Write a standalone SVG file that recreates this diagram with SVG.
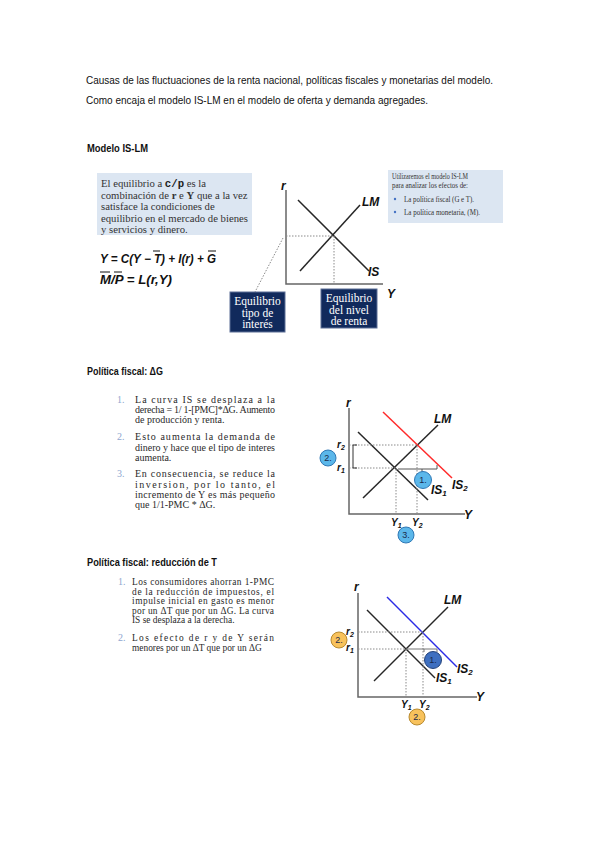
<svg xmlns="http://www.w3.org/2000/svg" width="599" height="848" viewBox="0 0 599 848">
<style>
.t{font-family:"Liberation Sans",Arial,sans-serif;font-size:10.5px;fill:#111}
.h{font-weight:bold;font-size:11px}
.s{font-family:"Liberation Serif","Times New Roman",serif;fill:#333}
.num{font-family:"Liberation Serif",serif;font-size:10px;fill:#8EA6CF}
.li{font-family:"Liberation Serif",serif;font-size:10px;fill:#2a2a2a}
.li3{font-family:"Liberation Serif",serif;font-size:9.4px;fill:#2a2a2a}
.ax{stroke:#666;stroke-width:1.5;fill:none}
.cv{stroke:#262626;stroke-width:1.5;fill:none}
.dt{stroke:#8a8a8a;stroke-width:1;stroke-dasharray:1.5 1.5;fill:none}
.lb{font-family:"Liberation Sans",Arial,sans-serif;font-weight:bold;font-style:italic;font-size:12px;fill:#111}
.lbs{font-family:"Liberation Sans",Arial,sans-serif;font-weight:bold;font-style:italic;font-size:10px;fill:#111}
.nb{font-family:"Liberation Sans",Arial,sans-serif;font-size:9px;fill:#1a2a4a;text-anchor:middle}
.cb{fill:#5BB7EA;stroke:#2F78B5;stroke-width:1}
.co{fill:#F8C25C;stroke:#B88A2E;stroke-width:1}
.cd{fill:#3E6FC0;stroke:#23427A;stroke-width:1}
.bx{fill:#112A5C;stroke:#5C6F96;stroke-width:1}
.bt{font-family:"Liberation Serif",serif;font-size:11.5px;fill:#fff;text-anchor:middle}
</style>

<g id="intro">
<text class="t" x="86" y="84" textLength="407" lengthAdjust="spacingAndGlyphs">Causas de las fluctuaciones de la renta nacional, políticas fiscales y monetarias del modelo.</text>
<text class="t" x="86" y="104" textLength="342" lengthAdjust="spacingAndGlyphs">Como encaja el modelo IS-LM  en el modelo de oferta y demanda agregades.</text>
</g>

<g id="sec1-title"><text class="t h" x="87" y="152" textLength="61" lengthAdjust="spacingAndGlyphs">Modelo IS-LM</text></g>

<g id="box-equilibrio">
<rect x="97" y="173" width="155" height="62" fill="#DCE6F2"/>
<text class="s" font-size="10.7" x="101" y="187">El equilibrio a <tspan font-family="Liberation Mono,monospace" font-weight="bold" fill="#222">c/p</tspan> es la</text>
<text class="s" font-size="10.7" x="101" y="198.5">combinación de <tspan font-weight="bold">r</tspan> e <tspan font-weight="bold">Y</tspan> que a la vez</text>
<text class="s" font-size="10.7" x="101" y="210">satisface la condiciones de</text>
<text class="s" font-size="10.7" x="101" y="221.5">equilibrio en el mercado de bienes</text>
<text class="s" font-size="10.7" x="101" y="233">y servicios y dinero.</text>
</g>

<g id="equations">
<text class="lb" x="100" y="263" textLength="116" lengthAdjust="spacingAndGlyphs">Y = C(Y − T) + I(r) + G</text>
<line x1="153" y1="251" x2="160" y2="251" stroke="#111" stroke-width="1"/>
<line x1="208" y1="251" x2="216" y2="251" stroke="#111" stroke-width="1"/>
<text class="lb" x="100" y="284" textLength="72" lengthAdjust="spacingAndGlyphs">M/P = L(r,Y)</text>
<line x1="100" y1="272" x2="110" y2="272" stroke="#111" stroke-width="1"/>
<line x1="114" y1="272" x2="122" y2="272" stroke="#111" stroke-width="1"/>
</g>

<g id="graph1">
<path class="ax" d="M286,190 L286,284 L383,284"/>
<line class="cv" x1="298" y1="200" x2="369" y2="271"/>
<line class="cv" x1="300" y1="271" x2="360" y2="205"/>
<path class="dt" d="M286,236 L334,236 L334,284"/>
<path class="dt" d="M283,238 L255,292"/>
<text class="lb" x="281" y="190">r</text>
<text class="lb" x="362" y="206">LM</text>
<text class="lb" x="368" y="276">IS</text>
<text class="lb" x="387" y="298">Y</text>
</g>

<g id="box-tipo">
<rect class="bx" x="230" y="292" width="55" height="40"/>
<text class="bt" x="257.5" y="305">Equilibrio</text>
<text class="bt" x="257.5" y="316.5">tipo de</text>
<text class="bt" x="257.5" y="328">interés</text>
</g>
<g id="box-renta">
<rect class="bx" x="321" y="289" width="56" height="39"/>
<text class="bt" x="349" y="302">Equilibrio</text>
<text class="bt" x="349" y="313.5">del nivel</text>
<text class="bt" x="349" y="325">de renta</text>
</g>

<g id="box-utilizaremos">
<rect x="388" y="170" width="115" height="53" fill="#DCE6F2"/>
<text class="s" font-size="8" x="392" y="179" textLength="76" lengthAdjust="spacingAndGlyphs">Utilizaremos el modelo IS-LM</text>
<text class="s" font-size="8" x="392" y="188" textLength="76" lengthAdjust="spacingAndGlyphs">para analizar los efectos de:</text>
<circle cx="395" cy="199" r="1.2" fill="#4472C4"/>
<text class="s" font-size="8" x="404" y="201.5" textLength="70" lengthAdjust="spacingAndGlyphs">La política fiscal (G e T).</text>
<circle cx="395" cy="212" r="1.2" fill="#4472C4"/>
<text class="s" font-size="8" x="404" y="214.5" textLength="76" lengthAdjust="spacingAndGlyphs">La política monetaria, (M).</text>
</g>

<g id="sec2-title"><text class="t h" x="87" y="375" textLength="76" lengthAdjust="spacingAndGlyphs">Política fiscal: ΔG</text></g>

<g id="list2">
<text class="num" x="117" y="403">1.</text>
<text class="li" x="135" y="403" textLength="140" lengthAdjust="spacing">La curva IS se desplaza a la</text>
<text class="li" x="135" y="412.5" textLength="140" lengthAdjust="spacing">derecha = 1/ 1-[PMC]*ΔG. Aumento</text>
<text class="li" x="135" y="423">de  producción y renta.</text>
<text class="num" x="117" y="440">2.</text>
<text class="li" x="135" y="440" textLength="140" lengthAdjust="spacing">Esto aumenta la demanda de</text>
<text class="li" x="135" y="450.5" textLength="140" lengthAdjust="spacing">dinero y hace que el tipo de interes</text>
<text class="li" x="135" y="461">aumenta.</text>
<text class="num" x="117" y="477">3.</text>
<text class="li" x="135" y="477" textLength="140" lengthAdjust="spacing">En consecuencia, se reduce la</text>
<text class="li" x="135" y="488" textLength="140" lengthAdjust="spacing">inversion, por lo tanto, el</text>
<text class="li" x="135" y="498" textLength="140" lengthAdjust="spacing">incremento de Y es más pequeño</text>
<text class="li" x="135" y="508">que 1/1-PMC * ΔG.</text>
</g>

<g id="graph2">
<path class="ax" d="M349,408 L349,514 L465,514"/>
<line class="cv" x1="358" y1="432" x2="428" y2="500"/>
<line class="cv" x1="363" y1="498" x2="438" y2="425"/>
<line x1="383" y1="412" x2="452" y2="478" stroke="#FF2A2A" stroke-width="1.5"/>
<path class="dt" d="M349,445 L417,445 L417,514"/>
<path class="dt" d="M349,468 L396,468 L396,514"/>
<path d="M357,445 L353,445 L353,468 L357,468" stroke="#333" stroke-width="1" fill="none"/>
<path d="M398,469 L437,469 L437,465 M422,469 L422,472" stroke="#555" stroke-width="1" fill="none"/>
<text class="lb" x="346" y="407">r</text>
<text class="lb" x="434" y="423">LM</text>
<text class="lb" x="431" y="494">IS<tspan font-size="8" dy="2">1</tspan></text>
<text class="lb" x="452" y="489" fill="#FF2A2A">IS<tspan font-size="8" dy="2">2</tspan></text>
<text class="lb" x="464" y="519">Y</text>
<text class="lbs" x="337" y="448" fill="#FF2A2A">r<tspan font-size="7" dy="2">2</tspan></text>
<text class="lbs" x="337" y="471">r<tspan font-size="7" dy="2">1</tspan></text>
<text class="lbs" x="391" y="526">Y<tspan font-size="7" dy="2">1</tspan></text>
<text class="lbs" x="412" y="526" fill="#FF2A2A">Y<tspan font-size="7" dy="2">2</tspan></text>
</g>
<g id="g2-c1"><circle class="cb" cx="423" cy="480" r="8.5"/><text class="nb" x="423" y="483">1.</text></g>
<g id="g2-c2"><circle class="cb" cx="328" cy="458" r="8"/><text class="nb" x="328" y="461">2.</text></g>
<g id="g2-c3"><circle class="cb" cx="406" cy="535" r="8"/><text class="nb" x="406" y="538">3.</text></g>

<g id="sec3-title"><text class="t h" x="87" y="566" textLength="130" lengthAdjust="spacingAndGlyphs">Política fiscal: reducción de T</text></g>

<g id="list3">
<text class="num" x="118" y="585">1.</text>
<text class="li3" x="132" y="585" textLength="142" lengthAdjust="spacing">Los consumidores ahorran 1-PMC</text>
<text class="li3" x="132" y="594.5" textLength="142" lengthAdjust="spacing">de la reducción de impuestos, el</text>
<text class="li3" x="132" y="604" textLength="142" lengthAdjust="spacing">impulse inicial en gasto es menor</text>
<text class="li3" x="132" y="613.5" textLength="142" lengthAdjust="spacing">por un ΔT que por un ΔG. La curva</text>
<text class="li3" x="132" y="623">IS se desplaza a la derecha.</text>
<text class="num" x="118" y="641">2.</text>
<text class="li3" x="132" y="641" textLength="142" lengthAdjust="spacing">Los efecto de r y de Y serán</text>
<text class="li3" x="132" y="650.5">menores por un ΔT que por un ΔG</text>
</g>

<g id="graph3">
<path class="ax" d="M358,593 L358,697 L477,697"/>
<line class="cv" x1="367" y1="610" x2="435" y2="678"/>
<line class="cv" x1="374" y1="681" x2="448" y2="607"/>
<line x1="387" y1="597" x2="457" y2="667" stroke="#2B2BE6" stroke-width="1.5"/>
<path class="dt" d="M358,632 L423,632 L423,697"/>
<path class="dt" d="M358,649 L406,649 L406,697"/>
<path d="M406,649 L437,649 L437,652 M424,649 L424,652" stroke="#777" stroke-width="1" fill="none"/>
<text class="lb" x="354" y="591">r</text>
<text class="lb" x="444" y="604">LM</text>
<text class="lb" x="436" y="682">IS<tspan font-size="8" dy="2">1</tspan></text>
<text class="lb" x="457" y="673" fill="#2B2BE6">IS<tspan font-size="8" dy="2">2</tspan></text>
<text class="lb" x="476" y="701">Y</text>
<text class="lbs" x="346" y="635" fill="#2B2BE6">r<tspan font-size="7" dy="2">2</tspan></text>
<text class="lbs" x="346" y="651">r<tspan font-size="7" dy="2">1</tspan></text>
<text class="lbs" x="401" y="708">Y<tspan font-size="7" dy="2">1</tspan></text>
<text class="lbs" x="419" y="708" fill="#2B2BE6">Y<tspan font-size="7" dy="2">2</tspan></text>
</g>
<g id="g3-c1"><circle class="cd" cx="433" cy="660" r="8.5"/><text class="nb" x="433" y="663" fill="#0c1a3a">1.</text></g>
<g id="g3-c2a"><circle class="co" cx="339" cy="640" r="8"/><text class="nb" x="339" y="643">2.</text></g>
<g id="g3-c2b"><circle class="co" cx="417" cy="717" r="8"/><text class="nb" x="417" y="720">2.</text></g>
</svg>
